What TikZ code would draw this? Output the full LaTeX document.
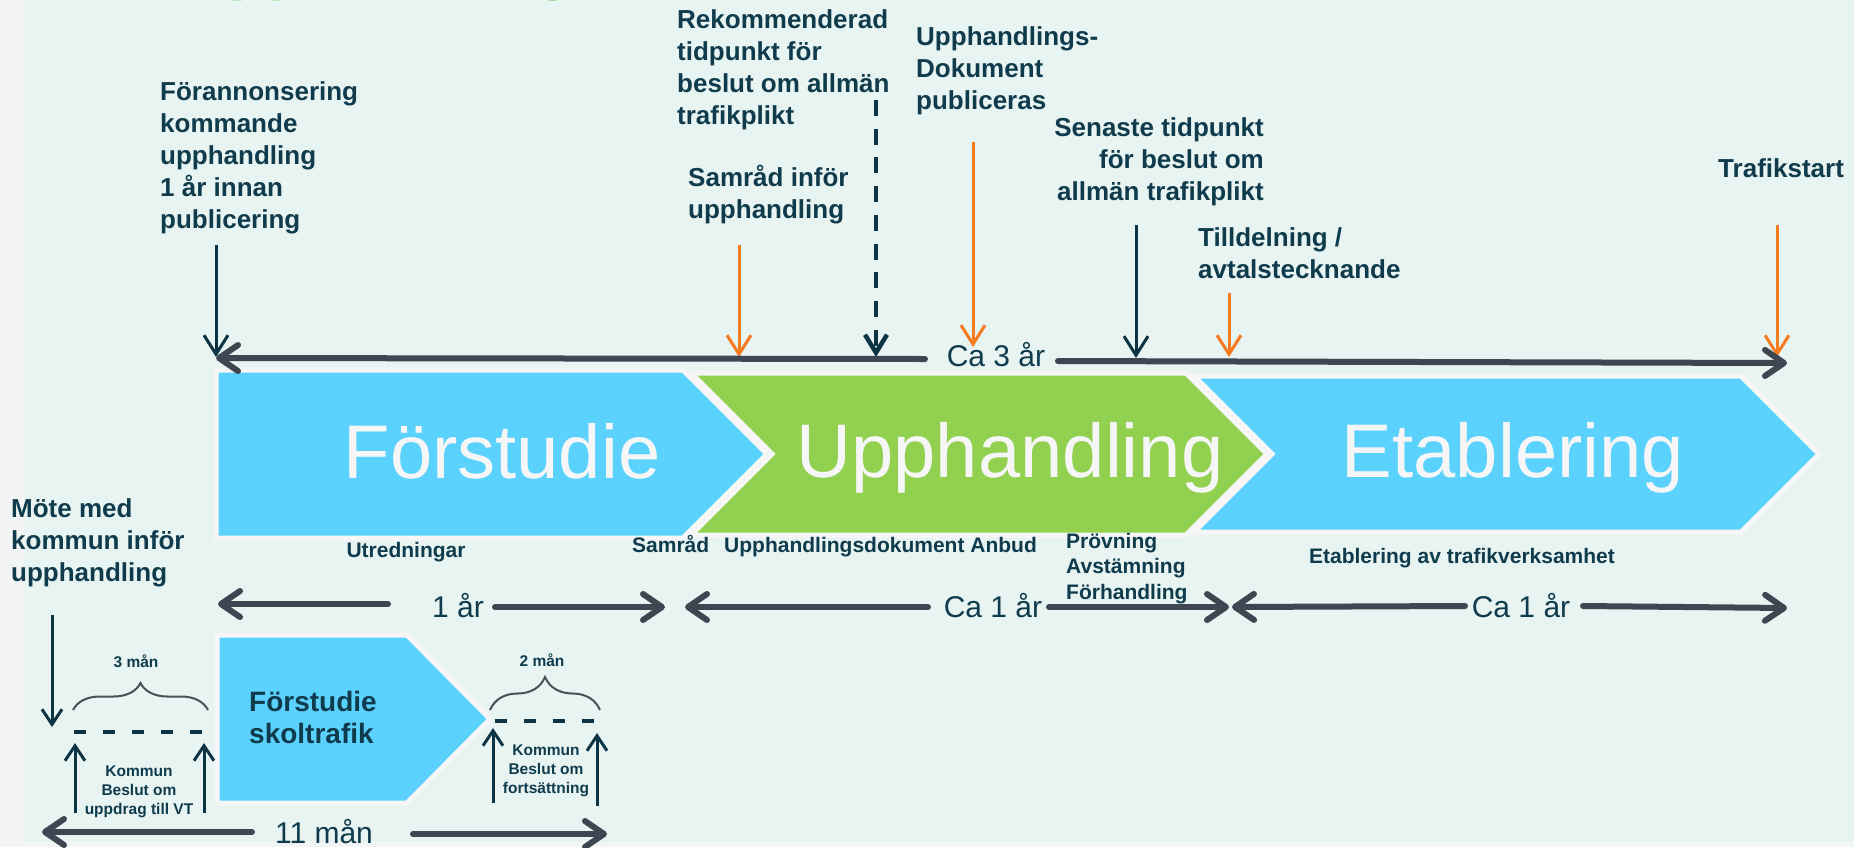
\documentclass[tikz,border=0pt]{standalone}
\usepackage{fontspec}
\setmainfont{Liberation Sans}
\usetikzlibrary{arrows.meta,decorations.pathreplacing}
\definecolor{bgout}{HTML}{F3F5F5}
\definecolor{mint}{HTML}{E8F4F2}
\definecolor{txt}{HTML}{0F3B4C}
\definecolor{navy}{HTML}{0D3445}
\definecolor{org}{HTML}{F47B20}
\definecolor{slate}{HTML}{3E4751}
\definecolor{sky}{HTML}{5BD2FD}
\definecolor{lime}{HTML}{92D050}
\definecolor{rim}{HTML}{F6F6F6}
\definecolor{ttl}{HTML}{5BBF4B}
\definecolor{brc}{HTML}{4A5055}
\begin{document}
\begin{tikzpicture}[x=1pt,y=-1pt,
  lbl/.style={font=\bfseries\fontsize{26}{32}\selectfont, text=txt, inner sep=0pt},
  sub/.style={font=\bfseries\fontsize{21}{25.5}\selectfont, text=txt, inner sep=0pt},
  small/.style={font=\bfseries\fontsize{15.5}{18.8}\selectfont, text=txt, inner sep=0pt, align=center},
  big/.style={font=\fontsize{76}{80}\selectfont, text=rim, inner sep=0pt},
  dur/.style={font=\fontsize{30}{34}\selectfont, text=txt, inner sep=0pt},
  chev/.style={draw=rim, line width=5pt, line join=miter},
  tl/.style={draw=slate, line width=6pt, line cap=round, -{Straight Barb[length=19pt,width=26pt,round]}},
  mk/.style={line width=3pt, -{Straight Barb[length=19pt,width=24pt]}},
  mkdash/.style={draw=navy, line width=4.5pt, dash pattern=on 16pt off 12.7pt, -{Straight Barb[length=18pt,width=22pt]}},
  uparr/.style={draw=navy, line width=3pt, -{Straight Barb[length=15pt,width=20pt]}},
  smalldash/.style={draw=navy, line width=4pt, dash pattern=on 12pt off 17pt},
  brc1/.style={draw=brc, line width=2pt, decorate, decoration={brace, amplitude=#1}}
]
% background
\fill[bgout] (0,0) rectangle (1854,847);
\fill[mint] (24,0) rectangle (1854,842);
\useasboundingbox (0,0) rectangle (1854,847);
\begin{scope}
\clip (0,0) rectangle (1854,847);
\node[font=\bfseries\fontsize{64}{70}\selectfont, text=ttl, inner sep=0pt, anchor=base west] (title) at (182,-13) {Upphandling};
\end{scope}

% chevrons
\path[chev, fill=sky] (216,370) -- (683,370) -- (767,454) -- (683,538) -- (216,538) -- cycle;
\path[chev, fill=lime] (691,373) -- (1186,373) -- (1267,454) -- (1186,535) -- (691,535) -- (772,454) -- cycle;
\path[chev, fill=sky] (1194,376) -- (1741,376) -- (1819,454) -- (1741,532) -- (1194,532) -- (1272,454) -- cycle;
\node[big, anchor=base] (tF) at (502,478) {Förstudie};
\node[big, anchor=base] (tU) at (1010,477) {Upphandling};
\node[big, anchor=base] (tE) at (1513,477) {Etablering};

% small chevron
\path[chev, fill=sky] (217,635) -- (407,635) -- (490,719) -- (407,803) -- (217,803) -- cycle;
\node[font=\bfseries\fontsize{28}{32}\selectfont, text=txt, inner sep=0pt, anchor=base west, align=left] (skol) at (249,743) {Förstudie\\skoltrafik};

% top labels (anchor = baseline of last line)
\node[lbl, anchor=base west, align=left] (l1) at (160,228) {Förannonsering\\kommande\\upphandling\\1 år innan\\publicering};
\node[lbl, anchor=base west, align=left] (l2) at (677,124) {Rekommenderad\\tidpunkt för\\beslut om allmän\\trafikplikt};
\node[lbl, anchor=base west, align=left] (l3) at (688,218) {Samråd inför\\upphandling};
\node[lbl, anchor=base west, align=left] (l4) at (916,109) {Upphandlings-\\Dokument\\publiceras};
\node[lbl, anchor=base east, align=right] (l5) at (1264,200) {Senaste tidpunkt\\för beslut om\\allmän trafikplikt};
\node[lbl, anchor=base west, align=left] (l6) at (1198,278) {Tilldelning /\\avtalstecknande};
\node[lbl, anchor=base west, align=left] (l7) at (1718,177) {Trafikstart};
\node[lbl, anchor=base west, align=left] (l8) at (11,581) {Möte med\\kommun inför\\upphandling};

% marker arrows
\coordinate (a1s) at (216,245); \coordinate (a1e) at (216,357);
\coordinate (a2s) at (876,100); \coordinate (a2e) at (876,357);
\coordinate (a3s) at (739,245); \coordinate (a3e) at (739,357);
\coordinate (a4s) at (973,142); \coordinate (a4e) at (973,347);
\coordinate (a5s) at (1136,225); \coordinate (a5e) at (1136,358);
\coordinate (a6s) at (1229,293); \coordinate (a6e) at (1229,357);
\coordinate (a7s) at (1777,225); \coordinate (a7e) at (1777,357);
\draw[mk, draw=navy] (a1s) -- (a1e);
\draw[mkdash] (a2s) -- (a2e);
\draw[mk, draw=org] (a3s) -- (a3e);
\draw[mk, draw=org] (a4s) -- (a4e);
\draw[mk, draw=navy] (a5s) -- (a5e);
\draw[mk, draw=org] (a6s) -- (a6e);
\draw[mk, draw=org] (a7s) -- (a7e);

% Ca 3 år timeline
\node[dur, anchor=base] (ca3) at (996,366) {Ca 3 år};
\coordinate (t3L) at (216,358); \coordinate (t3Lm) at (925,359);
\coordinate (t3Rm) at (1058,361); \coordinate (t3R) at (1787,363);
\draw[tl] (t3Lm) -- (t3L);
\draw[tl] (t3Rm) -- (t3R);

% labels under chevrons
\node[sub, anchor=base] (utr) at (406,557) {Utredningar};
\node[sub, anchor=base west] (samr) at (632,552) {Samråd};
\node[sub, anchor=base west] (updok) at (724,552) {Upphandlingsdokument Anbud};
\node[sub, anchor=base west, align=left] (prov) at (1066,599) {Prövning\\Avstämning\\Förhandling};
\node[sub, anchor=base] (etab) at (1462,563) {Etablering av trafikverksamhet};

% durations
\node[dur, anchor=base] (d1) at (458,617) {1 år};
\node[dur, anchor=base] (d2) at (993,617) {Ca 1 år};
\node[dur, anchor=base] (d3) at (1521,617) {Ca 1 år};
\node[dur, anchor=base] (d11) at (324,843) {11 mån};
\coordinate (d1a) at (388,604); \coordinate (d1at) at (218,604);
\coordinate (d1b) at (495,607); \coordinate (d1bt) at (665,607);
\coordinate (d2a) at (928,607); \coordinate (d2at) at (685,607);
\coordinate (d2b) at (1049,607); \coordinate (d2bt) at (1229,607);
\coordinate (d3a) at (1465,606); \coordinate (d3at) at (1232,607);
\coordinate (d3b) at (1583,606); \coordinate (d3bt) at (1787,608);
\coordinate (d4a) at (252,832); \coordinate (d4at) at (42,832);
\coordinate (d4b) at (413,834); \coordinate (d4bt) at (607,834);
\draw[tl] (d1a) -- (d1at); \draw[tl] (d1b) -- (d1bt);
\draw[tl] (d2a) -- (d2at); \draw[tl] (d2b) -- (d2bt);
\draw[tl] (d3a) -- (d3at); \draw[tl] (d3b) -- (d3bt);
\draw[tl] (d4a) -- (d4at); \draw[tl] (d4b) -- (d4bt);

% bottom left details
\coordinate (mos) at (52,615); \coordinate (moe) at (52,727);
\draw[uparr] (mos) -- (moe);
\node[small, anchor=base] (m3) at (136,667) {3 mån};
\node[small, anchor=base] (m2) at (542,666) {2 mån};
\coordinate (b1a) at (73,710); \coordinate (b1b) at (208,710);
\coordinate (b2a) at (490,710); \coordinate (b2b) at (600,710);
\draw[brc1=27pt] (b1a) -- (b1b);
\draw[brc1=33pt] (b2a) -- (b2b);
\coordinate (s1a) at (74,732); \coordinate (s1b) at (204,732);
\coordinate (s2a) at (495,721); \coordinate (s2b) at (596,721);
\draw[smalldash] (s1a) -- (s1b);
\draw[smalldash] (s2a) -- (s2b);
\coordinate (u1s) at (75,813); \coordinate (u1e) at (75,743);
\coordinate (u2s) at (204,813); \coordinate (u2e) at (204,743);
\coordinate (u3s) at (493,803); \coordinate (u3e) at (493,728);
\coordinate (u4s) at (597,806); \coordinate (u4e) at (597,733);
\draw[uparr] (u1s) -- (u1e); \draw[uparr] (u2s) -- (u2e);
\draw[uparr] (u3s) -- (u3e); \draw[uparr] (u4s) -- (u4e);
\node[small, anchor=base] (kb1) at (139,814) {Kommun\\Beslut om\\uppdrag till VT};
\node[small, anchor=base] (kb2) at (546,793) {Kommun\\Beslut om\\fortsättning};
\end{tikzpicture}
\end{document}
